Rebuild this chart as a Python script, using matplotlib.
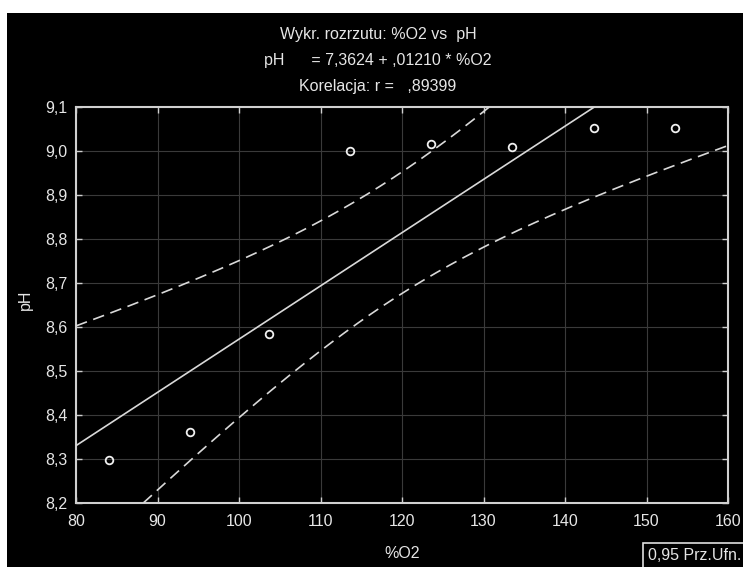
import numpy as np
import matplotlib
matplotlib.use("Agg")
import matplotlib.pyplot as plt
from matplotlib.patches import Rectangle

plt.rcParams['font.family'] = ['Liberation Sans', 'DejaVu Sans']

# Data
o2 = [84.0, 94.0, 103.7, 113.6, 123.6, 133.5, 143.5, 153.5]
ph = [8.298, 8.361, 8.584, 9.000, 9.016, 9.009, 9.052, 9.052]
intercept = 7.3624
slope = 0.01210
t_crit = 2.4469  # t(0.975, df=6)

xticks = [80, 90, 100, 110, 120, 130, 140, 150, 160]
xticklabels = ['80', '90', '100', '110', '120', '130', '140', '150', '160']
yticks = [8.2, 8.3, 8.4, 8.5, 8.6, 8.7, 8.8, 8.9, 9.0, 9.1]
yticklabels = ['8,2', '8,3', '8,4', '8,5', '8,6', '8,7', '8,8', '8,9', '9,0', '9,1']

W, H = 743, 567
FS = 11.5
fig = plt.figure(figsize=(W / 100, H / 100), dpi=100, facecolor='black')
# white strips at top and left edges
fig.patches.append(Rectangle((0, 1 - 13 / H), 1, 13 / H, transform=fig.transFigure,
                             facecolor='white', edgecolor='none', zorder=0))
fig.patches.append(Rectangle((0, 0), 7 / W, 1, transform=fig.transFigure,
                             facecolor='white', edgecolor='none', zorder=0))

ax = fig.add_axes([76 / W, (H - 503) / H, (728 - 76) / W, (503 - 107) / H])
ax.set_facecolor('black')

fg = '#e6e6e6'
x = np.array(o2)
y = np.array(ph)
xs = np.linspace(80, 160, 200)
yfit = intercept + slope * xs
resid = y - (intercept + slope * x)
s = np.sqrt(np.sum(resid ** 2) / (len(x) - 2))
sxx = np.sum((x - x.mean()) ** 2)
hw = t_crit * s * np.sqrt(1 / len(x) + (xs - x.mean()) ** 2 / sxx)

ax.plot(xs, yfit, color='#d9d9d9', lw=1.2, zorder=3)
ax.plot(xs, yfit + hw, color='#d9d9d9', lw=1.2, ls=(0, (7, 4)), zorder=3)
ax.plot(xs, yfit - hw, color='#d9d9d9', lw=1.2, ls=(0, (7, 4)), zorder=3)
ax.plot(x, y, 'o', ms=5.5, mfc='none', mec='#f0f0f0', mew=1.3, zorder=4)

ax.set_xlim(80, 160)
ax.set_ylim(8.2, 9.1)
ax.set_xticks(xticks)
ax.set_xticklabels(xticklabels)
ax.set_yticks(yticks)
ax.set_yticklabels(yticklabels)
ax.grid(True, color='#3a3a3a', lw=0.8)
ax.set_axisbelow(True)
for sp in ax.spines.values():
    sp.set_color('#d0d0d0')
    sp.set_linewidth(1.5)
ax.tick_params(direction='in', length=4, width=1, color='#d0d0d0',
               labelcolor=fg, labelsize=FS, top=True, right=True)
ax.tick_params(axis='x', pad=8)
ax.tick_params(axis='y', pad=6)

ax.set_xlabel('%O2', color=fg, fontsize=FS)
ax.set_ylabel('pH', color=fg, fontsize=FS)
ax.xaxis.set_label_coords((402 - 76) / 652, (503 - 553) / 396)
ax.yaxis.set_label_coords((25 - 76) / 652, (503 - 300) / 396)
ax.xaxis.label.set_va('center')
ax.yaxis.label.set_va('center')

cx = 378 / W
fig.text(cx, 1 - 35 / H, 'Wykr. rozrzutu: %O2 vs  pH', color=fg, fontsize=FS,
         ha='center', va='center')
fig.text(cx, 1 - 60 / H, 'pH      = 7,3624 + ,01210 * %O2', color=fg, fontsize=FS,
         ha='center', va='center')
fig.text(cx, 1 - 86 / H, 'Korelacja: r =   ,89399', color=fg, fontsize=FS,
         ha='center', va='center')

# legend-like box at bottom right
fig.patches.append(Rectangle((643 / W, -5 / H), 120 / W, (24 + 5) / H,
                             transform=fig.transFigure, facecolor='black',
                             edgecolor='#e0e0e0', lw=1.2, zorder=5))
fig.text(648 / W, 12 / H, '0,95 Prz.Ufn.', color=fg, fontsize=FS,
         ha='left', va='center', zorder=6)

fig.savefig('out.png', dpi=100, facecolor='black')
